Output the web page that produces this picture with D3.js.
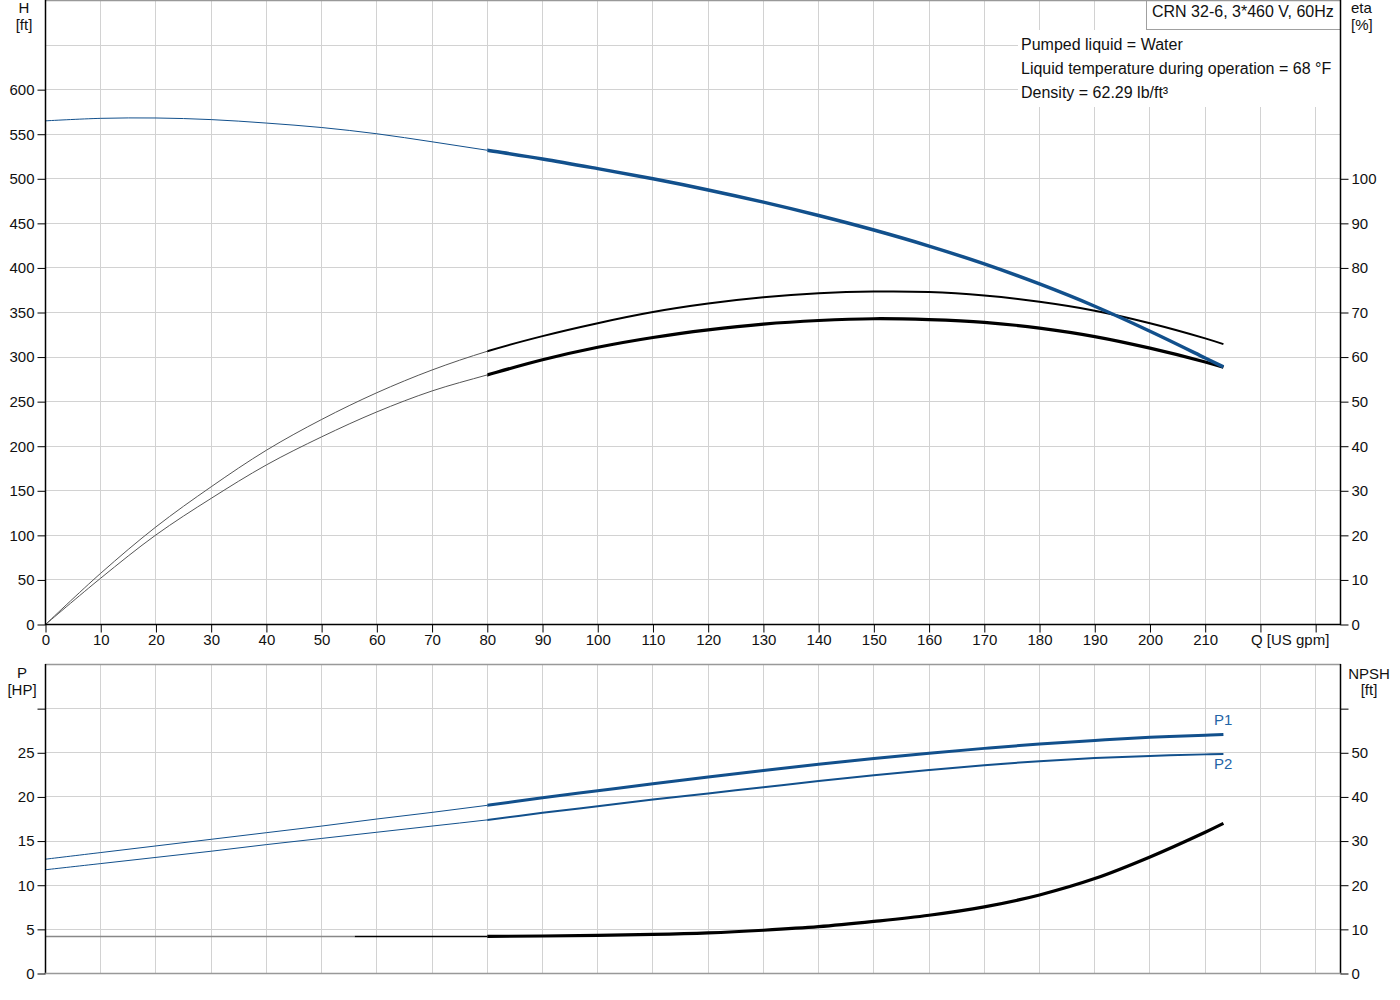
<!DOCTYPE html>
<html>
<head>
<meta charset="utf-8">
<script src="https://cdn.jsdelivr.net/npm/d3@7"></script>
<style>
body { margin: 0; background: #fff; }
text { font-family: "Liberation Sans", Arial, sans-serif; }
</style>
</head>
<body>
<svg id="chart"></svg>
<script>
// flow points shared by all curves (US gpm)
let q = [0, 10, 20, 30, 40, 50, 60, 70, 80, 90, 100, 110, 120, 130, 140, 150, 160, 170, 180, 190, 200, 210, 213.3]

// head [ft]
let head = [565, 567.8, 568.2, 566.4, 562.5, 557.5, 550.5, 541.5, 532, 522.3, 511.4, 500, 487.5, 473.8, 458.8, 442.5, 424.5, 404.5, 382, 357, 329, 299, 289]
// efficiency [%]: pump and total
let etaPump = [0, 11.5, 21.9, 30.9, 39.1, 46.0, 52.0, 57.1, 61.3, 64.7, 67.6, 70.1, 72.0, 73.4, 74.3, 74.7, 74.6, 73.8, 72.4, 70.4, 67.6, 64.2, 62.9]
let etaTotal = [0, 10.4, 20.1, 28.3, 35.8, 42.1, 47.7, 52.4, 56.0, 59.4, 62.2, 64.4, 66.1, 67.4, 68.2, 68.6, 68.4, 67.8, 66.5, 64.6, 62.0, 58.9, 57.7]
// power [HP]
let p1 = [12.95, 13.7, 14.45, 15.2, 15.95, 16.7, 17.5, 18.25, 19.05, 19.9, 20.7, 21.5, 22.25, 23.0, 23.7, 24.35, 24.95, 25.5, 26.0, 26.4, 26.75, 27.0, 27.08]
let p2 = [11.75, 12.45, 13.15, 13.85, 14.6, 15.3, 16.0, 16.7, 17.4, 18.2, 18.95, 19.7, 20.4, 21.1, 21.8, 22.45, 23.05, 23.6, 24.05, 24.4, 24.65, 24.82, 24.85]
// NPSH [ft]
let npsh = [8.4, 8.4, 8.4, 8.4, 8.4, 8.4, 8.4, 8.4, 8.4, 8.5, 8.65, 8.85, 9.2, 9.8, 10.6, 11.8, 13.2, 15.1, 17.8, 21.5, 26.4, 32.0, 34.0]

// tick labels
let qTicks = d3.range(0, 231, 10)
let hTicks = d3.range(0, 601, 50)
let etaTicks = d3.range(0, 101, 10)
let pTicks = d3.range(0, 31, 5)
let npshTicks = d3.range(0, 61, 10)

let infoLines = ['Pumped liquid = Water', 'Liquid temperature during operation = 68 °F', 'Density = 62.29 lb/ft³']
let title = 'CRN 32-6, 3*460 V, 60Hz'

let width = 1400
let height = 1000
let blue = '#12508c'

let svg = d3.select('#chart')
            .attr('width', width)
            .attr('height', height)

let x = d3.scaleLinear().domain([0, 234.5]).range([45.5, 1340.5])
let yH = d3.scaleLinear().domain([0, 700]).range([624.5, 0.5])
let yEta = d3.scaleLinear().domain([0, 140]).range([624.5, 0.5])
let yP = d3.scaleLinear().domain([0, 35]).range([973.5, 664.5])
let yN = d3.scaleLinear().domain([0, 70]).range([973.5, 664.5])

let px = (v) => Math.round(v - 0.5) + 0.5

// grid
let grid = svg.append('g').attr('stroke', '#d2d2d2').attr('stroke-width', 1)
qTicks.filter(d => d > 0).forEach(d => {
    grid.append('line').attr('x1', px(x(d))).attr('x2', px(x(d))).attr('y1', 0).attr('y2', 624)
    grid.append('line').attr('x1', px(x(d))).attr('x2', px(x(d))).attr('y1', 665).attr('y2', 973)
})
d3.range(50, 651, 50).forEach(d => {
    grid.append('line').attr('x1', 45).attr('x2', 1341).attr('y1', px(yH(d))).attr('y2', px(yH(d)))
})
d3.range(5, 31, 5).forEach(d => {
    grid.append('line').attr('x1', 45).attr('x2', 1341).attr('y1', px(yP(d))).attr('y2', px(yP(d)))
})

// info block and title box
svg.append('rect').attr('x', 1018).attr('y', 30).attr('width', 322).attr('height', 77).attr('fill', '#fff')
infoLines.forEach((t, i) => {
    svg.append('text').attr('x', 1021).attr('y', 50 + i * 24)
       .attr('font-size', 16).attr('fill', '#111').text(t)
})
svg.append('rect').attr('x', 1146.5).attr('y', -1).attr('width', 194).attr('height', 30.5)
   .attr('fill', '#fff').attr('stroke', '#a0a0a0')
svg.append('text').attr('x', 1152).attr('y', 17).attr('font-size', 16).attr('fill', '#111').text(title)

// clip regions by flow range
let defs = svg.append('defs')
let clip = (id, q0, q1) => {
    defs.append('clipPath').attr('id', id)
        .append('rect').attr('x', x(q0)).attr('y', 0)
        .attr('width', x(q1) - x(q0)).attr('height', height)
}
clip('thin', 0, 80)
clip('thick', 80, 240)
clip('grayPart', 0, 56)
clip('blackPart', 56, 80)

let drawCurve = (yScale, values, clipId, color, w) => {
    let line = d3.line()
                 .x((d, i) => x(q[i]))
                 .y((d) => yScale(d))
                 .curve(d3.curveCatmullRom.alpha(0.5))
    svg.append('path')
       .datum(values)
       .attr('d', line)
       .attr('fill', 'none')
       .attr('stroke', color)
       .attr('stroke-width', w)
       .attr('clip-path', 'url(#' + clipId + ')')
}

// top chart curves
drawCurve(yEta, etaPump, 'thin', '#555', 1)
drawCurve(yEta, etaPump, 'thick', '#000', 2)
drawCurve(yEta, etaTotal, 'thin', '#555', 1)
drawCurve(yEta, etaTotal, 'thick', '#000', 3.2)
drawCurve(yH, head, 'thin', blue, 1)
drawCurve(yH, head, 'thick', blue, 3.5)

// bottom chart curves
drawCurve(yP, p1, 'thin', blue, 1)
drawCurve(yP, p1, 'thick', blue, 3)
drawCurve(yP, p2, 'thin', blue, 1)
drawCurve(yP, p2, 'thick', blue, 2)
drawCurve(yN, npsh, 'grayPart', '#888', 1.5)
drawCurve(yN, npsh, 'blackPart', '#000', 1.5)
drawCurve(yN, npsh, 'thick', '#000', 3.2)

svg.append('text').attr('x', 1214).attr('y', 725).attr('font-size', 15).attr('fill', '#1f64a6').text('P1')
svg.append('text').attr('x', 1214).attr('y', 769).attr('font-size', 15).attr('fill', '#1f64a6').text('P2')

// frame lines
let frame = (x1, y1, x2, y2, c) => svg.append('line')
    .attr('x1', x1).attr('y1', y1).attr('x2', x2).attr('y2', y2)
    .attr('stroke', c).attr('stroke-width', 1.5)
frame(45, 0.5, 1341, 0.5, '#999')
frame(45.5, 0, 45.5, 625, '#000')
frame(1340.5, 0, 1340.5, 625, '#000')
frame(45, 624.5, 1341, 624.5, '#000')
frame(45, 664.5, 1341, 664.5, '#999')
frame(45.5, 664, 45.5, 974, '#000')
frame(1340.5, 664, 1340.5, 974, '#000')
frame(45, 973.5, 1341, 973.5, '#999')

// axes
let styleAxis = (g) => {
    g.select('.domain').remove()
    g.selectAll('text').attr('font-size', 15).attr('fill', '#111')
     .attr('font-family', '"Liberation Sans", Arial, sans-serif')
    g.selectAll('line').attr('stroke', '#000')
}
svg.append('g').attr('transform', 'translate(45.5,0)')
   .call(d3.axisLeft(yH).tickValues(hTicks).tickSize(8).tickPadding(3))
   .call(styleAxis)
svg.append('g').attr('transform', 'translate(1340.5,0)')
   .call(d3.axisRight(yEta).tickValues(etaTicks).tickSize(8).tickPadding(3))
   .call(styleAxis)
svg.append('g').attr('transform', 'translate(0,624.5)')
   .call(d3.axisBottom(x).tickValues(qTicks).tickSize(8).tickPadding(2)
           .tickFormat(d => d <= 210 ? d : ''))
   .call(styleAxis)
svg.append('g').attr('transform', 'translate(45.5,0)')
   .call(d3.axisLeft(yP).tickValues(pTicks).tickSize(8).tickPadding(3)
           .tickFormat(d => d <= 25 ? d : ''))
   .call(styleAxis)
svg.append('g').attr('transform', 'translate(1340.5,0)')
   .call(d3.axisRight(yN).tickValues(npshTicks).tickSize(8).tickPadding(3)
           .tickFormat(d => d <= 50 ? d : ''))
   .call(styleAxis)

// axis titles
let label = (t, xx, yy, anchor) => svg.append('text')
    .attr('x', xx).attr('y', yy).attr('text-anchor', anchor)
    .attr('font-size', 15).attr('fill', '#111').text(t)
label('H', 24, 13, 'middle')
label('[ft]', 24, 30, 'middle')
label('eta', 1351, 13, 'start')
label('[%]', 1351, 30, 'start')
label('Q [US gpm]', 1251, 645, 'start')
label('P', 22, 678, 'middle')
label('[HP]', 22, 695, 'middle')
label('NPSH', 1369, 679, 'middle')
label('[ft]', 1369, 695, 'middle')
</script>
</body>
</html>
